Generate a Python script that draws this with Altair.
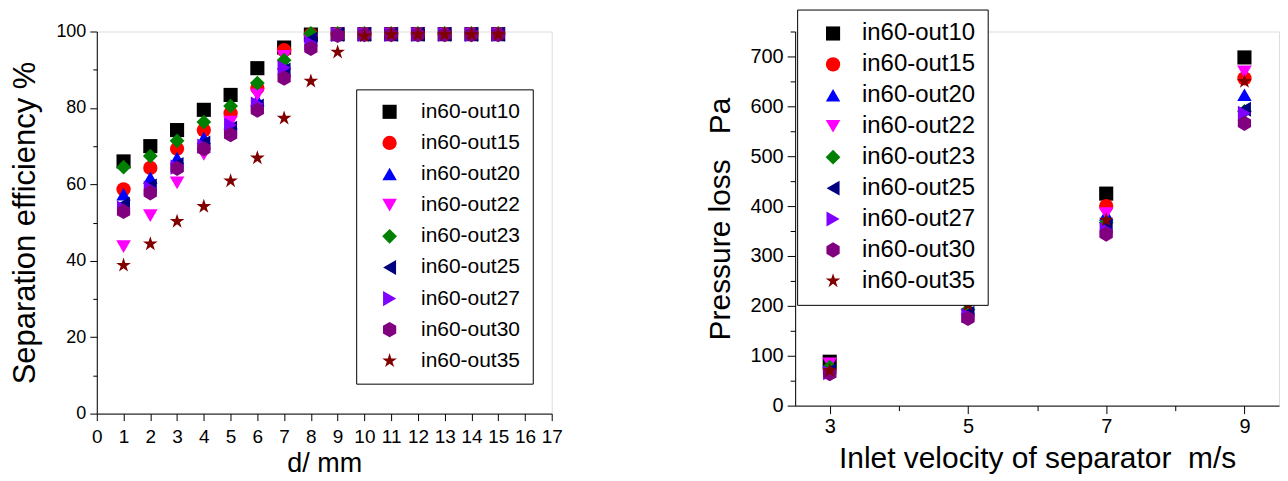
import altair as alt
import pandas as pd

FONT = "Liberation Sans, Arial, sans-serif"

series = ["in60-out10", "in60-out15", "in60-out20", "in60-out22", "in60-out23",
          "in60-out25", "in60-out27", "in60-out30", "in60-out35"]
colors = ["#000000", "#FF0000", "#0000FF", "#FF00FF", "#008000",
          "#000080", "#8000FF", "#800080", "#800000"]
HEX = "M0,-1L0.866,-0.5L0.866,0.5L0,1L-0.866,0.5L-0.866,-0.5Z"
STAR = ("M0,-1L0.2245,-0.309L0.951,-0.309L0.3633,0.118L0.588,0.809L0,0.382"
        "L-0.588,0.809L-0.3633,0.118L-0.951,-0.309L-0.2245,-0.309Z")
shapes = ["square", "circle", "triangle-up", "triangle-down", "diamond",
          "triangle-left", "triangle-right", HEX, STAR]
sizes = [200, 240, 270, 270, 330, 270, 270, 250, 340]

# Left panel: separation efficiency vs particle size
d_mm = list(range(1, 16))
eff_out10 = [66.0, 70.0, 74.2, 79.5, 83.4, 90.4, 95.8, 99.2, 99.3, 99.3, 99.3, 99.3, 99.3, 99.3, 99.3]
eff_out15 = [58.7, 64.3, 69.3, 74.2, 78.6, 85.2, 95.1, 99.2, 99.3, 99.3, 99.3, 99.3, 99.3, 99.3, 99.3]
eff_out20 = [57.4, 61.7, 66.9, 72.1, 76.0, 82.1, 91.7, 98.8, 99.3, 99.3, 99.3, 99.3, 99.3, 99.3, 99.3]
eff_out22 = [43.7, 51.8, 60.4, 67.8, 76.3, 83.4, 93.5, 97.5, 99.3, 99.3, 99.3, 99.3, 99.3, 99.3, 99.3]
eff_out23 = [64.5, 67.4, 71.4, 76.3, 80.5, 86.5, 92.5, 99.5, 99.5, 99.5, 99.5, 99.5, 99.5, 99.5, 99.5]
eff_out25 = [54.8, 59.6, 65.2, 70.8, 74.7, 80.5, 89.9, 98.0, 99.3, 99.3, 99.3, 99.3, 99.3, 99.3, 99.3]
eff_out27 = [53.8, 59.0, 64.5, 70.0, 75.5, 81.0, 90.5, 97.0, 99.2, 99.2, 99.2, 99.2, 99.2, 99.2, 99.2]
eff_out30 = [52.9, 57.8, 64.2, 69.3, 73.0, 79.4, 87.8, 95.6, 99.0, 99.2, 99.2, 99.2, 99.2, 99.2, 99.2]
eff_out35 = [38.8, 44.4, 50.3, 54.2, 60.9, 66.9, 77.3, 87.0, 94.6, 98.8, 99.2, 99.2, 99.2, 99.2, 99.2]
eff_all = [eff_out10, eff_out15, eff_out20, eff_out22, eff_out23,
           eff_out25, eff_out27, eff_out30, eff_out35]

# Right panel: pressure loss vs inlet velocity
velocity = [3, 5, 7, 9]
dp_out10 = [88, 222, 425, 698]
dp_out15 = [72, 212, 400, 656]
dp_out20 = [77, 195, 383, 623]
dp_out22 = [84, 215, 385, 669]
dp_out23 = [77, 192, 367, 590]
dp_out25 = [70, 185, 360, 594]
dp_out27 = [66, 181, 353, 586]
dp_out30 = [64, 175, 344, 566]
dp_out35 = [70, 202, 372, 650]
dp_all = [dp_out10, dp_out15, dp_out20, dp_out22, dp_out23,
          dp_out25, dp_out27, dp_out30, dp_out35]

left_rows = []
for s, vals in zip(series, eff_all):
    for d, v in zip(d_mm, vals):
        left_rows.append({"series": s, "d": d, "eff": v})
left_df = pd.DataFrame(left_rows)

right_rows = []
for s, vals in zip(series, dp_all):
    for x, v in zip(velocity, vals):
        right_rows.append({"series": s, "v": x, "dp": v})
right_df = pd.DataFrame(right_rows)


def axis(title, values, label_test, major, minor, label_size, title_size, title_pad, label_pad):
    return alt.Axis(
        title=title, values=values, format="d",
        labelExpr=f"{label_test} ? datum.label : ''",
        tickSize={"condition": {"test": label_test, "value": major}, "value": minor},
        labelPadding=label_pad,
        labelFontSize=label_size, titleFontSize=title_size, titlePadding=title_pad,
        titleFontWeight="normal", labelFont=FONT, titleFont=FONT,
        labelColor="black", titleColor="black", domainColor="black", tickColor="black",
        domainWidth=1, tickWidth=1, grid=False, labelFlush=False, labelOverlap=False,
    )


def legend(lx, ly, font_size, sym_off, lab_off, pad, row_pad):
    return alt.Legend(
        title=None, orient="none", legendX=lx, legendY=ly,
        labelFontSize=font_size, labelFont=FONT, labelColor="black",
        symbolSize=160, symbolStrokeWidth=0, symbolOffset=sym_off,
        labelOffset=lab_off, padding=pad, rowPadding=row_pad,
        strokeColor="black", fillColor="white", symbolOpacity=1,
    )


color_scale = alt.Scale(domain=series, range=colors)
shape_scale = alt.Scale(domain=series, range=shapes)
size_scale = alt.Scale(domain=series, range=sizes)

left_legend = legend(260, 58, 21, 11, 21, 12, 9.2)
left = alt.Chart(left_df).mark_point(filled=True, opacity=1).encode(
    x=alt.X("d:Q", scale=alt.Scale(domain=[0, 17], nice=False, zero=False),
            axis=axis("d/ mm", [i * 0.5 for i in range(35)], "datum.value % 1 === 0",
                      7, 4, 19, 27, 4, 7)),
    y=alt.Y("eff:Q", scale=alt.Scale(domain=[0, 100], nice=False),
            axis=axis("Separation efficiency %", list(range(0, 101, 10)), "datum.value % 20 === 0",
                      7, 4, 18, 31, 14, 4)),
    color=alt.Color("series:N", scale=color_scale, legend=left_legend, sort=series),
    shape=alt.Shape("series:N", scale=shape_scale, legend=left_legend, sort=series),
    size=alt.Size("series:N", scale=size_scale, legend=None),
).properties(width=456, height=383)

right_legend = legend(2, -22, 24, 12, 17, 12, 7.0)
right = alt.Chart(right_df).mark_point(filled=True, opacity=1).encode(
    x=alt.X("v:Q", scale=alt.Scale(domain=[2.5, 9.5], nice=False, zero=False),
            axis=axis("Inlet velocity of separator\u00a0\u00a0m/s", [3, 4, 5, 6, 7, 8, 9],
                      "datum.value % 2 === 1", 8, 5, 20, 30, 7, 3)),
    y=alt.Y("dp:Q", scale=alt.Scale(domain=[0, 750], nice=False),
            axis=axis("Pressure loss\u00a0\u00a0\u00a0Pa", list(range(0, 751, 50)), "datum.value % 100 === 0",
                      8, 5, 20, 30, 14, 4)),
    color=alt.Color("series:N", scale=color_scale, legend=right_legend, sort=series),
    shape=alt.Shape("series:N", scale=shape_scale, legend=right_legend, sort=series),
    size=alt.Size("series:N", scale=size_scale, legend=None),
).properties(width=485, height=375)

chart = alt.hconcat(left, right, spacing=244, bounds="flush").resolve_legend(
    color="independent", shape="independent", size="independent"
).resolve_scale(color="independent", shape="independent", size="independent").properties(
    padding={"left": 1, "top": 0, "right": 0, "bottom": 2}
).configure_view(strokeWidth=0).configure(background="white")

chart.save("out.html", embed_options={"renderer": "svg", "actions": False})
